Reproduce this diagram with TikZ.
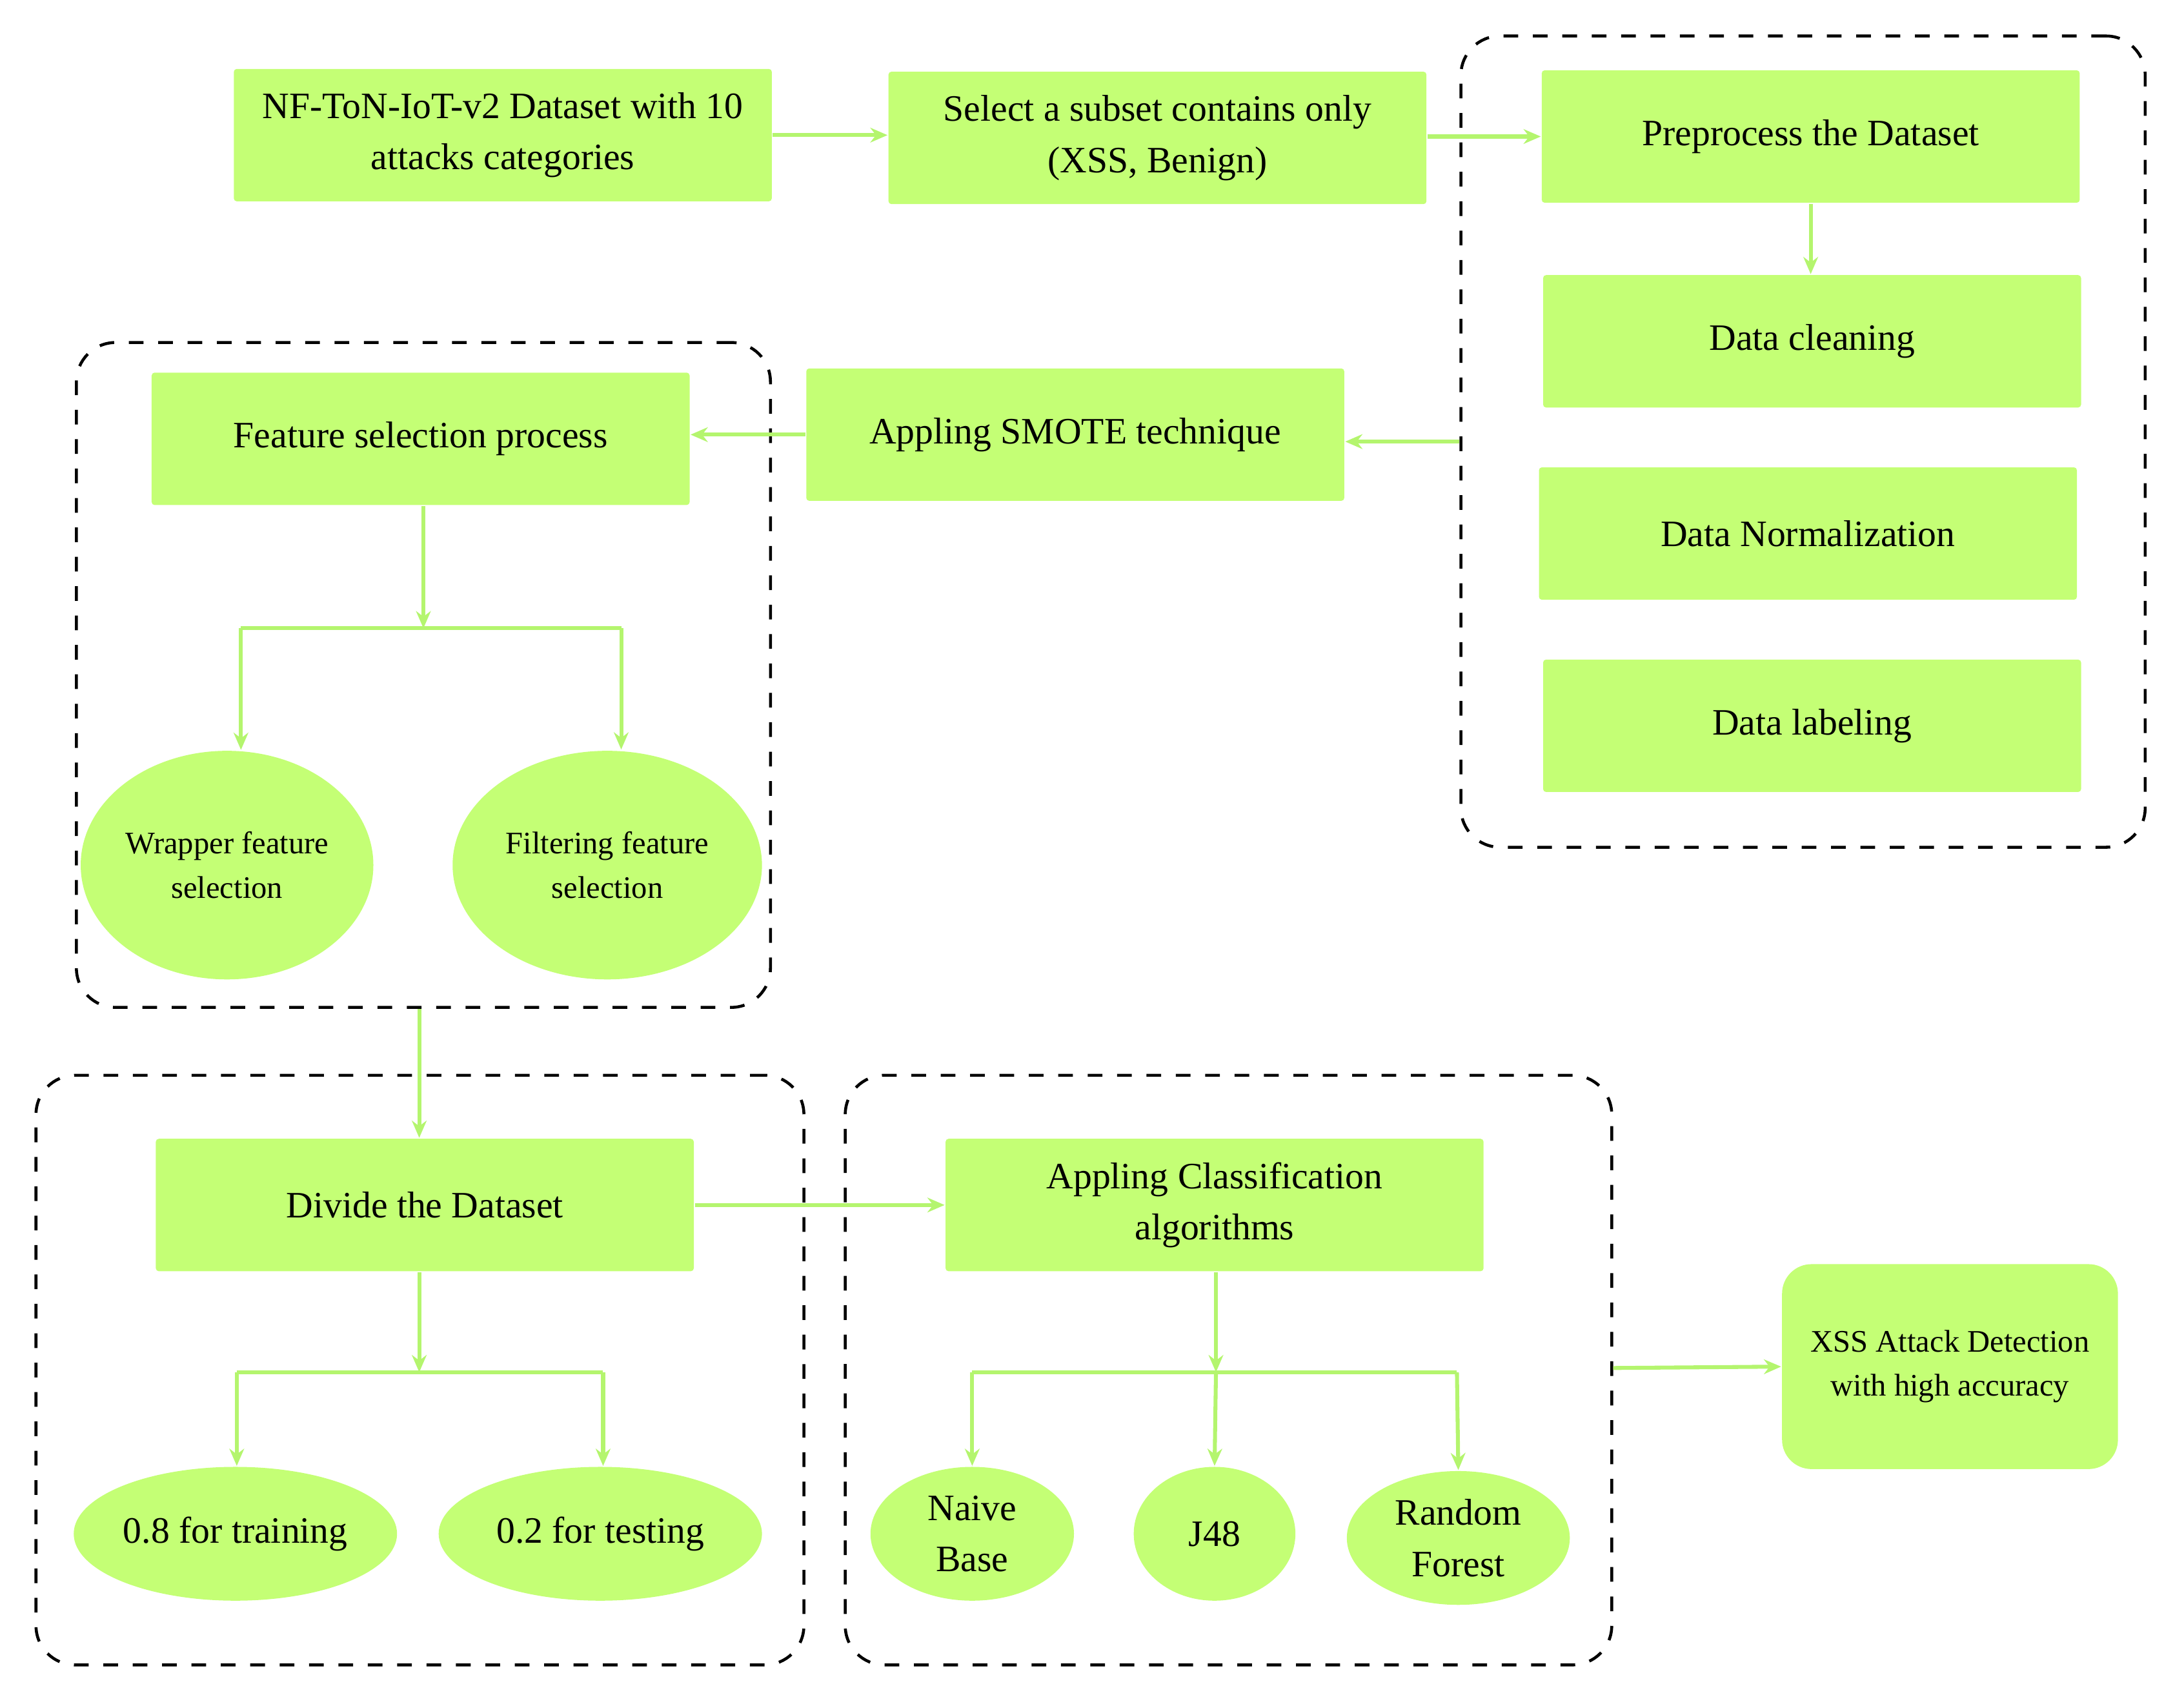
\documentclass[tikz,border=0pt]{standalone}
\usepackage{fontspec}
\setmainfont{Liberation Serif}
\usetikzlibrary{shapes.geometric,arrows.meta}
\definecolor{gfill}{RGB}{196,255,117}
\definecolor{garrow}{RGB}{180,245,110}
\begin{document}
\begin{tikzpicture}[x=0.01cm,y=-0.01cm,
  box/.style={rectangle,fill=gfill,minimum width=3.86cm,minimum height=0.95cm,inner sep=1pt,align=center,font=\fontsize{7.6}{10.5}\selectfont,rounded corners=0.6pt},
  ell/.style={ellipse,fill=gfill,inner sep=0pt,align=center,font=\fontsize{6.4}{9}\selectfont},
  ell2/.style={ellipse,fill=gfill,inner sep=0pt,align=center,font=\fontsize{7.6}{10.5}\selectfont},
  dbox/.style={draw=black,dashed,line width=0.6pt,rounded corners=8pt,rectangle,inner sep=0pt},
  arr/.style={draw=garrow,line width=0.8pt,-{Stealth[length=3.5pt,width=3pt]}},
  ln/.style={draw=garrow,line width=0.8pt}]
\useasboundingbox (0,0) rectangle (1568,1218);
% dashed groups
\node[dbox,minimum width=4.91cm,minimum height=5.82cm] (rbox) at (1294.5,317) {};
\node[dbox,minimum width=4.98cm,minimum height=4.77cm] (lbox) at (304,484.5) {};
\node[dbox,minimum width=5.51cm,minimum height=4.23cm] (bl) at (301.5,983.5) {};
\node[dbox,minimum width=5.50cm,minimum height=4.23cm] (bm) at (882,983.5) {};
% boxes
\node[box] (nf) at (361,97) {NF-ToN-IoT-v2 Dataset with 10\\attacks categories};
\node[box] (sel) at (831,99) {Select a subset contains only\\(XSS, Benign)};
\node[box] (pre) at (1300,98) {Preprocess the Dataset};
\node[box] (clean) at (1301,245) {Data cleaning};
\node[box] (norm) at (1298,383) {Data Normalization};
\node[box] (lab) at (1301,521) {Data labeling};
\node[box] (smote) at (772,312) {Appling SMOTE technique};
\node[box] (fs) at (302,315) {Feature selection process};
\node[ell,minimum width=2.10cm,minimum height=1.64cm] (wr) at (163,621) {Wrapper feature\\selection};
\node[ell,minimum width=2.22cm,minimum height=1.64cm] (fi) at (436,621) {Filtering feature\\selection};
\node[box] (div) at (305,865) {Divide the Dataset};
\node[ell2,minimum width=2.32cm,minimum height=0.96cm] (tr) at (169,1101) {0.8 for training};
\node[ell2,minimum width=2.32cm,minimum height=0.96cm] (te) at (431,1101) {0.2 for testing};
\node[box] (cls) at (872,865) {Appling Classification\\algorithms};
\node[ell2,minimum width=1.46cm,minimum height=0.96cm] (nb) at (698,1101) {Naive\\Base};
\node[ell2,minimum width=1.16cm,minimum height=0.96cm] (j48) at (872,1101) {J48};
\node[ell2,minimum width=1.60cm,minimum height=0.96cm] (rf) at (1047,1104) {Random\\Forest};
\node[box,minimum width=2.41cm,minimum height=1.47cm,rounded corners=6pt,font=\fontsize{6.4}{9}\selectfont] (xss) at (1400,981) {XSS Attack Detection\\with high accuracy};
% connectors
\draw[arr] (nf.east) -- (sel.west |- nf.east);
\draw[arr] (sel.east |- pre.west) -- (pre.west);
\draw[arr] (pre.south) -- (pre.south |- clean.north);
\draw[arr] (rbox.west |- 0,317) -- (smote.east |- 0,317);
\draw[arr] (smote.west) -- (fs.east |- smote.west);
\coordinate (b1) at (304,451);
\draw[arr] (fs.south -| b1) -- (b1);
\draw[ln] (173,451) -- (446,451);
\draw[arr] (173,451) -- (wr.north -| 173,0);
\draw[arr] (446,451) -- (446,538);
\draw[arr] (lbox.south -| 301,0) -- (div.north -| 301,0);
\coordinate (b2) at (301,985);
\draw[arr] (div.south -| b2) -- (b2);
\draw[ln] (170,985) -- (433,985);
\draw[arr] (170,985) -- (tr.north -| 170,0);
\draw[arr] (433,985) -- (te.north -| 433,0);
\draw[arr] (div.east) -- (cls.west);
\coordinate (b3) at (873,985);
\draw[arr] (cls.south -| b3) -- (b3);
\draw[ln] (698,985) -- (1046,985);
\draw[arr] (698,985) -- (nb.north);
\draw[arr] (873,985) -- (j48.north);
\draw[arr] (1046,985) -- (rf.north);
\draw[arr] (bm.east |- 0,982) -- (xss.west);
\end{tikzpicture}
\end{document}
